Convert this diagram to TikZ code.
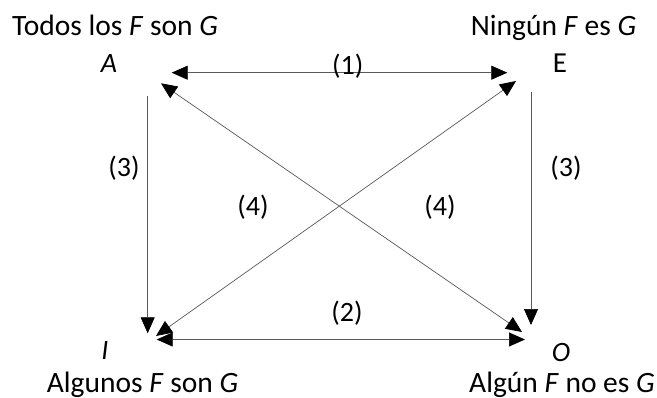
\documentclass[tikz,border=0pt]{standalone}
\usepackage{fontspec}
\setmainfont{Carlito}
\usetikzlibrary{arrows.meta}
\begin{document}
\begin{tikzpicture}[x=1pt,y=-1pt,
  caption/.style={anchor=base,inner sep=0pt,font=\fontsize{29.5}{34}\selectfont},
  letter/.style={anchor=base,inner sep=0pt,font=\fontsize{28}{34}\selectfont\itshape},
  num/.style={anchor=center,inner sep=0pt,font=\fontsize{28}{34}\selectfont},
  conn/.style={draw=black!65,line width=0.7pt},
  one/.style={conn,arrows={-{Triangle[length=16pt,width=14pt,black]}}},
  two/.style={conn,arrows={{Triangle[length=16pt,width=14pt,black]}-{Triangle[length=16pt,width=14pt,black]}}}]
\useasboundingbox (0,0) rectangle (657,397);
\fill[white] (0,0) rectangle (657,397);
% captions
\node[caption] (ctodos) at (115,35) {Todos los \textit{F} son \textit{G}};
\node[caption] (cning) at (553.5,35) {Ningún \textit{F} es \textit{G}};
\node[caption] (calg) at (142.5,392) {Algunos \textit{F} son \textit{G}};
\node[caption] (calgun) at (562,392) {Algún \textit{F} no es \textit{G}};
% letters
\node[letter] (A) at (109,72) {A};
\node[anchor=base,inner sep=0pt,font=\fontsize{29}{34}\selectfont] (E) at (560,72) {E};
\node[letter] (I) at (105,359) {I};
\node[letter] (O) at (561,361) {O};
% connector end points
\coordinate (tA) at (171.7,72.7);
\coordinate (tE) at (507.3,72.7);
\coordinate (bI) at (156.7,339.5);
\coordinate (bO) at (525,339.5);
\coordinate (vA) at (147.7,95.7);
\coordinate (vI) at (147.7,333.3);
\coordinate (vE) at (531,91.7);
\coordinate (vO) at (531,325);
\coordinate (dA) at (161,83.3);
\coordinate (dO) at (522,332);
\coordinate (dE) at (516,81);
\coordinate (dI) at (156,336);
% connectors
\draw[two] (tA) -- (tE);
\draw[two] (bI) -- (bO);
\draw[one] (vA) -- (vI);
\draw[one] (vE) -- (vO);
\draw[two] (dA) -- (dO);
\draw[two] (dE) -- (dI);
% labels
\node[num] (n1) at (347.7,66) {(1)};
\node[num] (n2) at (347,313) {(2)};
\node[num] (n3l) at (124,168.5) {(3)};
\node[num] (n3r) at (566,168.5) {(3)};
\node[num] (n4l) at (253,207.5) {(4)};
\node[num] (n4r) at (440,207.5) {(4)};
\end{tikzpicture}
\end{document}
